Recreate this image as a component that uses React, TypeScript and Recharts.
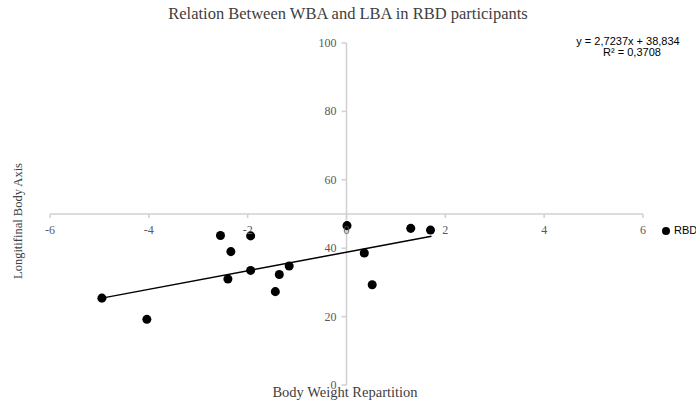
import {
    ReferenceLine,
    Scatter,
    ScatterChart,
    XAxis,
    YAxis,
    ZAxis,
} from "recharts";

// RBD participants: body weight repartition (x) vs longitudinal body axis (y)
const wba = [-4.95, -4.04, -2.55, -2.34, -2.4, -1.94, -1.94, -1.44, -1.36, -1.16, 0.01, 0.36, 0.52, 1.3, 1.7];
const lba = [25.4, 19.2, 43.7, 39.0, 31.0, 43.6, 33.5, 27.3, 32.3, 34.8, 46.6, 38.6, 29.3, 45.8, 45.3];

// trendline ends
const trendX = [-4.95, 1.72];
const trendY = [25.4, 43.5];

const xTicks = [-6, -4, -2, 0, 2, 4, 6];
const yTicks = [0, 20, 40, 60, 80, 100];

const W = 696;
const H = 403;
const margin = { top: 43, right: 53, bottom: 17, left: 49 };
const plotW = W - margin.left - 1 - margin.right;
const plotH = H - margin.top - margin.bottom - 1;
// axes cross at x = 0, y = 50 (middle of both domains)
const crossX = margin.left + 1 + plotW / 2;
const crossY = margin.top + plotH / 2;

const serif = "'Liberation Serif', 'Times New Roman', serif";
const sans = "'Liberation Sans', Arial, sans-serif";
const axisGrey = "#d0d0d0";
const tickGrey = "#595959";

const points = wba.map((x, i) => ({ x, y: lba[i] }));

function XTick({ x, payload }: any) {
    return (
        <g>
            <line x1={x} x2={x} y1={crossY} y2={crossY + 4} stroke={axisGrey} strokeWidth={1.5} />
            <text x={x} y={crossY + 20} textAnchor="middle" fill={tickGrey} fontFamily={serif} fontSize={12}>
                {payload.value}
            </text>
        </g>
    );
}

function YTick({ y, payload }: any) {
    return (
        <g>
            <line x1={crossX - 5} x2={crossX} y1={y} y2={y} stroke={axisGrey} strokeWidth={1.5} />
            <text x={crossX - 10} y={y + 4} textAnchor="end" fill={tickGrey} fontFamily={serif} fontSize={12}>
                {payload.value}
            </text>
        </g>
    );
}

export default function App() {
    return (
        <div style={{ position: "absolute", left: 0, top: 0, width: W, height: H, background: "#fff" }}>
            <ScatterChart width={W} height={H} margin={margin}>
                <XAxis
                    type="number"
                    dataKey="x"
                    domain={[-6, 6]}
                    ticks={xTicks}
                    interval={0}
                    height={1}
                    axisLine={false}
                    tickLine={false}
                    tick={(p: any) => <XTick {...p} />}
                />
                <YAxis
                    type="number"
                    dataKey="y"
                    domain={[0, 100]}
                    ticks={yTicks}
                    interval={0}
                    width={1}
                    axisLine={false}
                    tickLine={false}
                    tick={(p: any) => <YTick {...p} />}
                />
                <ZAxis range={[52, 52]} />
                <ReferenceLine x={0} stroke={axisGrey} strokeWidth={1.5} />
                <ReferenceLine y={50} stroke={axisGrey} strokeWidth={1.5} />
                <ReferenceLine
                    segment={[
                        { x: trendX[0], y: trendY[0] },
                        { x: trendX[1], y: trendY[1] },
                    ]}
                    stroke="#000"
                    strokeWidth={1.5}
                />
                <Scatter name="RBD" data={points} fill="#000" shape="circle" isAnimationActive={false} />
            </ScatterChart>

            <div style={{ position: "absolute", left: 0, width: W, top: 4, textAlign: "center", fontFamily: serif, fontSize: 16.5, color: "#404040" }}>
                Relation Between WBA and LBA in RBD participants
            </div>
            <div style={{ position: "absolute", left: 195, width: 300, top: 384, textAlign: "center", fontFamily: serif, fontSize: 14.5, color: "#404040" }}>
                Body Weight Repartition
            </div>
            <div
                style={{
                    position: "absolute",
                    left: 18,
                    top: 221,
                    transform: "translate(-50%, -50%) rotate(-90deg)",
                    whiteSpace: "nowrap",
                    fontFamily: serif,
                    fontSize: 12.5,
                    lineHeight: "14px",
                    color: "#404040",
                }}
            >
                Longitifinal Body Axis
            </div>
            <div style={{ position: "absolute", left: 568, width: 120, top: 36, textAlign: "center", fontFamily: sans, fontSize: 11, lineHeight: "11px", color: "#000" }}>
                <div>y = 2,7237x + 38,834</div>
                <div style={{ paddingLeft: 8 }}>R² = 0,3708</div>
            </div>
            <div style={{ position: "absolute", left: 662, top: 223, display: "flex", alignItems: "center", fontFamily: sans, fontSize: 11, lineHeight: "15px", color: "#000" }}>
                <span style={{ display: "inline-block", width: 8, height: 8, borderRadius: 4, background: "#000", marginRight: 4 }} />
                RBD
            </div>
        </div>
    );
}
